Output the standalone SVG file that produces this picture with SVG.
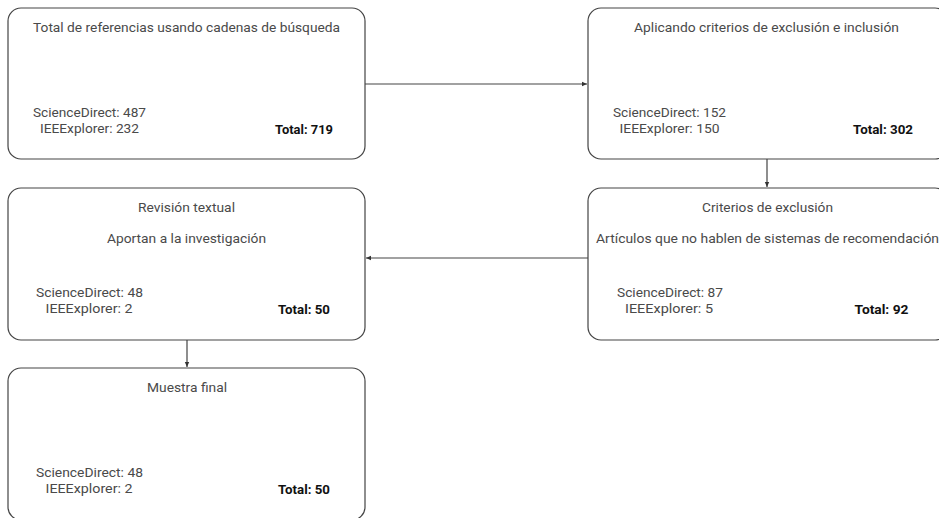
<svg xmlns="http://www.w3.org/2000/svg" width="939" height="518" viewBox="0 0 939 518">
<defs>
<marker id="ah" markerWidth="6" markerHeight="6" refX="5" refY="3" orient="auto" markerUnits="userSpaceOnUse">
<path d="M0,0.8 L5,3 L0,5.2 Z" fill="#333"/>
</marker>
</defs>
<style>
.box{fill:#fff;stroke:#444;stroke-width:1.2}
.t{font-family:Roboto,"Liberation Sans",sans-serif;font-size:13.5px;fill:#4a4a4a;text-anchor:middle}
.b{font-family:Roboto,"Liberation Sans",sans-serif;font-size:13.5px;font-weight:bold;fill:#111;text-anchor:middle}
.e{stroke:#444;stroke-width:1.2;fill:none;marker-end:url(#ah)}
</style>
<rect width="939" height="518" fill="#fff"/>
<g id="n1">
<rect class="box" x="8" y="8" width="357" height="151" rx="13"/>
<text class="t" x="186.5" y="32" textLength="307" lengthAdjust="spacingAndGlyphs">Total de referencias usando cadenas de búsqueda</text>
<text class="t" x="89.5" y="117" textLength="113" lengthAdjust="spacingAndGlyphs">ScienceDirect: 487</text>
<text class="t" x="89.5" y="133" textLength="99" lengthAdjust="spacingAndGlyphs">IEEExplorer: 232</text>
<text class="b" x="304" y="134" textLength="58" lengthAdjust="spacingAndGlyphs">Total: 719</text>
</g>
<g id="n2">
<rect class="box" x="588" y="8" width="360" height="151" rx="13"/>
<text class="t" x="766.5" y="32" textLength="265" lengthAdjust="spacingAndGlyphs">Aplicando criterios de exclusión e inclusión</text>
<text class="t" x="669.5" y="117" textLength="113" lengthAdjust="spacingAndGlyphs">ScienceDirect: 152</text>
<text class="t" x="669.5" y="133" textLength="100" lengthAdjust="spacingAndGlyphs">IEEExplorer: 150</text>
<text class="b" x="883" y="134" textLength="60" lengthAdjust="spacingAndGlyphs">Total: 302</text>
</g>
<g id="n3">
<rect class="box" x="8" y="188" width="357" height="152" rx="13"/>
<text class="t" x="186.5" y="212" textLength="97" lengthAdjust="spacingAndGlyphs">Revisión textual</text>
<text class="t" x="186.5" y="243" textLength="159" lengthAdjust="spacingAndGlyphs">Aportan a la investigación</text>
<text class="t" x="89.5" y="297" textLength="107" lengthAdjust="spacingAndGlyphs">ScienceDirect: 48</text>
<text class="t" x="89" y="313" textLength="87" lengthAdjust="spacingAndGlyphs">IEEExplorer: 2</text>
<text class="b" x="304" y="314" textLength="52" lengthAdjust="spacingAndGlyphs">Total: 50</text>
</g>
<g id="n4">
<rect class="box" x="588" y="188" width="360" height="152" rx="13"/>
<text class="t" x="767.5" y="212" textLength="131" lengthAdjust="spacingAndGlyphs">Criterios de exclusión</text>
<text class="t" x="767.5" y="243" textLength="343" lengthAdjust="spacingAndGlyphs">Artículos que no hablen de sistemas de recomendación</text>
<text class="t" x="670" y="297" textLength="106" lengthAdjust="spacingAndGlyphs">ScienceDirect: 87</text>
<text class="t" x="669" y="313" textLength="88" lengthAdjust="spacingAndGlyphs">IEEExplorer: 5</text>
<text class="b" x="881.5" y="314" textLength="54" lengthAdjust="spacingAndGlyphs">Total: 92</text>
</g>
<g id="n5">
<rect class="box" x="8" y="368" width="357" height="152" rx="13"/>
<text class="t" x="187" y="392" textLength="80" lengthAdjust="spacingAndGlyphs">Muestra final</text>
<text class="t" x="89.5" y="477" textLength="107" lengthAdjust="spacingAndGlyphs">ScienceDirect: 48</text>
<text class="t" x="89" y="493" textLength="87" lengthAdjust="spacingAndGlyphs">IEEExplorer: 2</text>
<text class="b" x="304" y="494" textLength="52" lengthAdjust="spacingAndGlyphs">Total: 50</text>
</g>
<g id="edges">
<path class="e" d="M365,84 L587,84"/>
<path class="e" d="M767,159 L767,187"/>
<path class="e" d="M588,258 L366,258"/>
<path class="e" d="M187,340 L187,367"/>
</g>
</svg>
